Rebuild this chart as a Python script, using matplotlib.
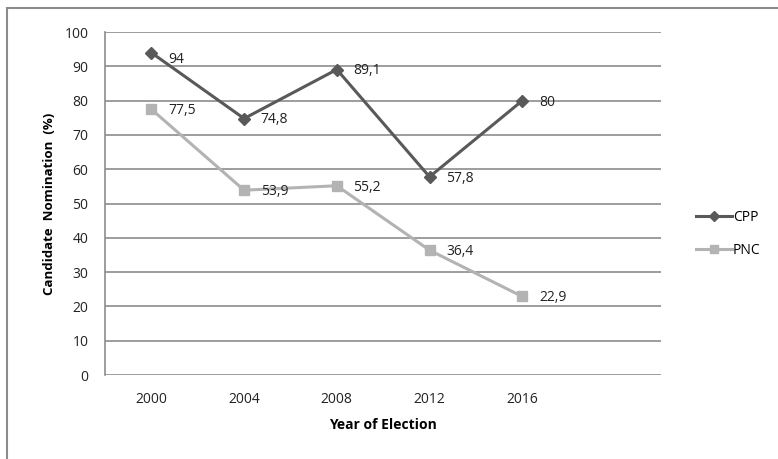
import matplotlib
matplotlib.use("Agg")
import matplotlib.pyplot as plt
from matplotlib.patches import Rectangle

# data
years = ["2000", "2004", "2008", "2012", "2016", ""]
cpp = [94, 74.8, 89.1, 57.8, 80]
pnc = [77.5, 53.9, 55.2, 36.4, 22.9]

plt.rcParams['font.family'] = ['Open Sans', 'DejaVu Sans']

fig = plt.figure(figsize=(7.78, 4.59), dpi=100)
ax = fig.add_axes([0.135, 0.183, 0.715, 0.747])

# outer frame (only left/top edges visible in the reference)
fig.patches.append(Rectangle((7 / 778, -0.1), 1.2, 1 - 8 / 459 + 0.1,
                             transform=fig.transFigure, fill=False,
                             edgecolor='#8c8c8c', linewidth=1.5))

x = list(range(len(cpp)))
ax.plot(x, cpp, color='#595959', linewidth=2.2, marker='D', markersize=6,
        label='CPP', zorder=3)
ax.plot(x, pnc, color='#b3b3b3', linewidth=2.2, marker='s', markersize=7,
        label='PNC', zorder=3)


def fmt(v):
    return ('%g' % v).replace('.', ',')


for i, v in enumerate(cpp):
    dy = -5 if v > 90 else -1
    ax.annotate(fmt(v), (i, v), xytext=(12, dy), textcoords='offset points',
                ha='left', va='center', fontsize=10, color='#222222')
for i, v in enumerate(pnc):
    ax.annotate(fmt(v), (i, v), xytext=(12, -1), textcoords='offset points',
                ha='left', va='center', fontsize=10, color='#222222')

ax.set_xlim(-0.5, len(years) - 0.5)
ax.set_ylim(0, 100)
ax.set_xticks(range(len(years)))
ax.set_xticklabels(years)
ax.set_yticks(range(0, 101, 10))
ax.tick_params(length=0, labelsize=10, colors='#222222')
ax.tick_params(axis='y', pad=12)
ax.tick_params(axis='x', pad=12)

ax.yaxis.grid(True, color='#8c8c8c', linewidth=1.2)
ax.set_axisbelow(True)
for s in ['top', 'right', 'bottom']:
    ax.spines[s].set_visible(False)
ax.spines['left'].set_color('#8c8c8c')
ax.spines['left'].set_linewidth(1.2)

ax.set_ylabel('Candidate  Nomination  (%)', fontsize=9.5, fontweight='bold',
              labelpad=6)
ax.set_xlabel('Year of Election', fontsize=10, fontweight='bold', labelpad=8)

leg = ax.legend(loc='center left', bbox_to_anchor=(0.878, 0.49),
                bbox_transform=fig.transFigure, frameon=False, fontsize=10,
                handlelength=2.6, handletextpad=0.1, labelspacing=1.3,
                markerscale=0.8)

fig.savefig('out.png', dpi=100)
